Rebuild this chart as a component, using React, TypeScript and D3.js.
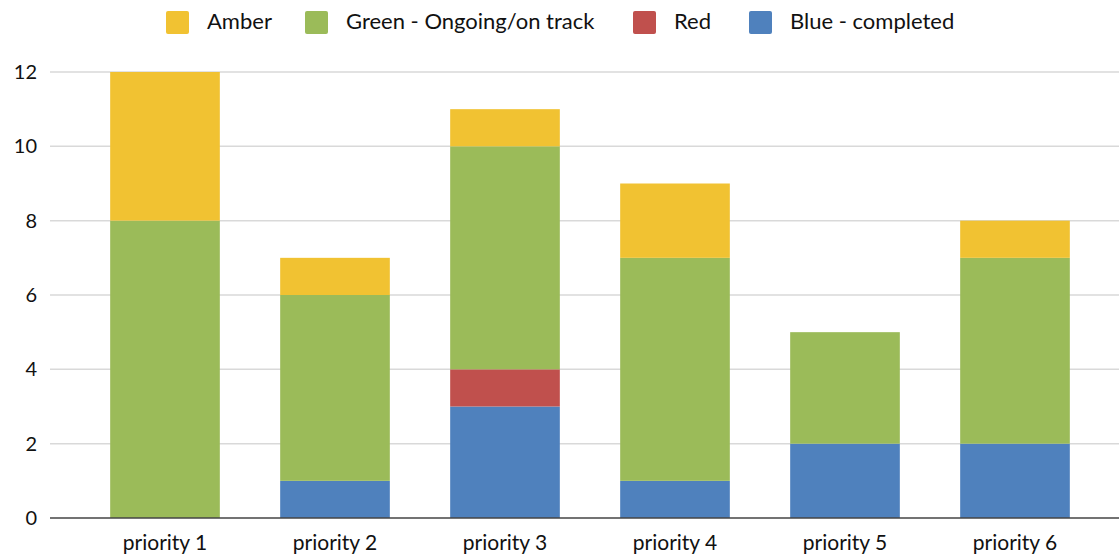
import { useEffect, useRef } from 'react';
import * as d3 from 'd3';

const categories = ['priority 1', 'priority 2', 'priority 3', 'priority 4', 'priority 5', 'priority 6'];
// stacked bottom → top
const blue  = [0, 1, 3, 1, 2, 2];
const red   = [0, 0, 1, 0, 0, 0];
const green = [8, 5, 6, 6, 3, 5];
const amber = [4, 1, 1, 2, 0, 1];
const yTicks = [0, 2, 4, 6, 8, 10, 12];

const seriesNames = ['Blue - completed', 'Red', 'Green - Ongoing/on track', 'Amber'];
const seriesColors = ['#4f81bd', '#c0504d', '#9bbb59', '#f1c232'];
const legendOrder = [3, 2, 1, 0];
const legendX = [166, 305, 633, 749];

export default function App() {
  const svgRef = useRef<SVGSVGElement>(null);

  useEffect(() => {
    if (!svgRef.current) return;
    const svg = d3.select(svgRef.current);
    svg.selectAll('*').remove();

    const W = 1119;
    const font = 'Lato, "Open Sans", sans-serif';
    const rows = categories.map((c, i) => ({
      cat: c,
      'Blue - completed': blue[i],
      Red: red[i],
      'Green - Ongoing/on track': green[i],
      Amber: amber[i],
    }));
    const stack = d3.stack<any>().keys(seriesNames)(rows);

    const x = d3.scaleBand().domain(categories).range([80, 1100]).paddingInner(0.355).paddingOuter(0.1775);
    const y = d3.scaleLinear().domain([0, 12]).range([518, 72]);

    // grid
    svg.append('g')
      .selectAll('line')
      .data(yTicks.filter(t => t > 0))
      .enter().append('line')
      .attr('x1', 50).attr('x2', W)
      .attr('y1', d => y(d)).attr('y2', d => y(d))
      .attr('stroke', '#d9d9d9').attr('stroke-width', 1.5);

    // y labels
    svg.append('g')
      .selectAll('text')
      .data(yTicks)
      .enter().append('text')
      .attr('x', 37).attr('y', d => y(d) + 7)
      .attr('text-anchor', 'end')
      .attr('font-family', font).attr('font-size', 20).attr('fill', '#111')
      .text(d => d);

    // bars
    svg.append('g')
      .selectAll('g')
      .data(stack)
      .enter().append('g')
      .attr('fill', (_, i) => seriesColors[i])
      .selectAll('rect')
      .data(d => d)
      .enter().append('rect')
      .attr('x', d => x(d.data.cat)!)
      .attr('width', x.bandwidth())
      .attr('y', d => y(d[1]))
      .attr('height', d => y(d[0]) - y(d[1]));

    // baseline
    svg.append('line')
      .attr('x1', 50).attr('x2', W)
      .attr('y1', y(0)).attr('y2', y(0))
      .attr('stroke', '#444').attr('stroke-width', 1.5);

    // x labels
    svg.append('g')
      .selectAll('text')
      .data(categories)
      .enter().append('text')
      .attr('x', d => x(d)! + x.bandwidth() / 2)
      .attr('y', 550)
      .attr('text-anchor', 'middle')
      .attr('font-family', font).attr('font-size', 21).attr('fill', '#111')
      .text(d => d);

    // legend
    const leg = svg.append('g');
    legendOrder.forEach((si, k) => {
      leg.append('rect')
        .attr('x', legendX[k]).attr('y', 11)
        .attr('width', 23).attr('height', 23).attr('rx', 2)
        .attr('fill', seriesColors[si]);
      leg.append('text')
        .attr('x', legendX[k] + 41).attr('y', 29)
        .attr('font-family', font).attr('font-size', 22).attr('fill', '#111')
        .text(seriesNames[si]);
    });
  }, []);

  return (
    <div style={{ position: 'absolute', left: 0, top: 0 }}>
      <svg ref={svgRef} width={1119} height={558} style={{ display: 'block', background: '#fff' }} />
    </div>
  );
}
